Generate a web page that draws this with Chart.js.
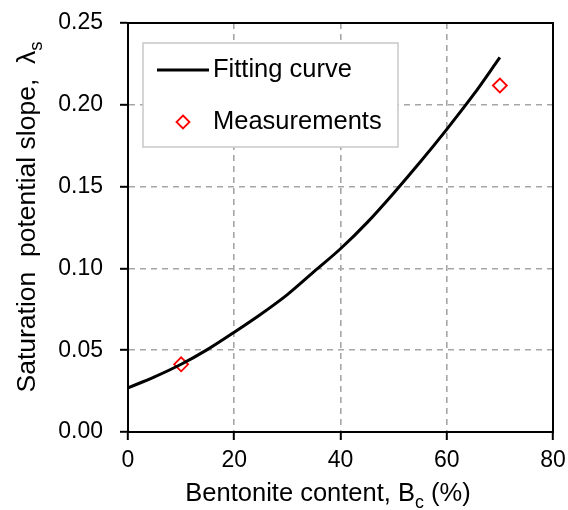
<!DOCTYPE html>
<html lang="en">

<head>
  <meta charset="UTF-8">
  <script src="https://cdn.jsdelivr.net/npm/chart.js@4.4.1/dist/chart.umd.min.js"></script>
  <style>
    body {
      margin: 0;
      background: #fff;
    }

    #wrap {
      width: 568px;
      height: 510px;
    }
  </style>
  <title>Saturation potential slope</title>
</head>

<body>
  <div id="wrap">
    <canvas id="chart" width="568" height="510"></canvas>
  </div>

  <script>
    // fitting curve
    const curveX = [0, 5, 10, 15, 20, 25, 30, 35, 40, 45, 50, 55, 60, 65, 70];
    const curveY = [0.027, 0.0337, 0.0414, 0.0505, 0.061, 0.072, 0.084, 0.098, 0.112, 0.128, 0.146, 0.165, 0.185, 0.206, 0.229];

    // measured points
    const measX = [10, 70];
    const measY = [0.0414, 0.2118];

    const xTicks = [0, 20, 40, 60, 80];
    const yTicks = [0, 0.05, 0.10, 0.15, 0.20, 0.25];

    const FONT = '"Liberation Sans", Arial, sans-serif';

    // draw a piece of text where parts can be subscripts
    function drawRich(ctx, parts, size) {
      let total = 0;
      parts.forEach(function (p) {
        ctx.font = (p.sub ? size * 0.7 : size) + 'px ' + FONT;
        p.w = ctx.measureText(p.t).width;
        total += p.w;
      });
      let x = -total / 2;
      parts.forEach(function (p) {
        ctx.font = (p.sub ? size * 0.7 : size) + 'px ' + FONT;
        ctx.fillText(p.t, x, p.sub ? size * 0.28 : 0);
        x += p.w;
      });
    }

    const extras = {
      id: 'extras',
      afterDraw(chart) {
        const ctx = chart.ctx;
        const a = chart.chartArea;
        ctx.save();
        // box round the plot
        ctx.strokeStyle = '#000';
        ctx.lineWidth = 2;
        ctx.strokeRect(a.left, a.top, a.right - a.left, a.bottom - a.top);

        // axis titles
        ctx.fillStyle = '#000';
        ctx.textBaseline = 'alphabetic';
        ctx.textAlign = 'left';
        ctx.save();
        ctx.translate(328, 501);
        drawRich(ctx, [{ t: 'Bentonite content, B' }, { t: 'c', sub: true }, { t: ' (%)' }], 25.5);
        ctx.restore();

        ctx.save();
        ctx.translate(35, 217);
        ctx.rotate(-Math.PI / 2);
        drawRich(ctx, [{ t: 'Saturation  potential slope,  \u03bb' }, { t: 's', sub: true }], 26.5);
        ctx.restore();

        // legend
        const lx = a.left + 15, ly = a.top + 20, lw = 255, lh = 104;
        ctx.fillStyle = '#fff';
        ctx.fillRect(lx, ly, lw, lh);
        ctx.strokeStyle = '#c8c8c8';
        ctx.lineWidth = 1.5;
        ctx.strokeRect(lx, ly, lw, lh);

        const ds = chart.data.datasets;
        ctx.font = '25.5px ' + FONT;
        ctx.textBaseline = 'middle';
        ctx.fillStyle = '#000';
        // line sample
        ctx.strokeStyle = ds[0].borderColor;
        ctx.lineWidth = 3;
        ctx.beginPath();
        ctx.moveTo(lx + 14, ly + 27);
        ctx.lineTo(lx + 66, ly + 27);
        ctx.stroke();
        ctx.fillText(ds[0].label, lx + 70, ly + 27);
        // diamond sample
        const cx = lx + 40, cy = ly + 79, r = 6.5;
        ctx.strokeStyle = ds[1].borderColor;
        ctx.lineWidth = 1.8;
        ctx.beginPath();
        ctx.moveTo(cx, cy - r);
        ctx.lineTo(cx + r, cy);
        ctx.lineTo(cx, cy + r);
        ctx.lineTo(cx - r, cy);
        ctx.closePath();
        ctx.stroke();
        ctx.fillText(ds[1].label, lx + 70, ly + 79);
        ctx.restore();
      }
    };

    const gridStyle = {
      color: '#a6a6a6',
      lineWidth: 1.6,
      drawTicks: true,
      tickLength: 8,
      tickColor: '#000',
      tickWidth: 2,
      tickBorderDash: []
    };
    // in v4 the grid dash lives under border
    const borderStyle = { color: '#000', width: 2, dash: [6, 5] };

    // keep the plot box where the layout padding puts it
    function noOverflow(s) {
      s.paddingTop = 0;
      s.paddingBottom = 0;
      s.paddingLeft = 0;
      s.paddingRight = 0;
    }

    const chart = new Chart(document.getElementById('chart'), {
      type: 'line',
      data: {
        datasets: [{
          label: 'Fitting curve',
          data: curveX.map(function (x, i) { return { x: x, y: curveY[i] } }),
          borderColor: '#000',
          borderWidth: 3,
          pointRadius: 0,
          cubicInterpolationMode: 'monotone',
          fill: false
        }, {
          label: 'Measurements',
          data: measX.map(function (x, i) { return { x: x, y: measY[i] } }),
          showLine: false,
          pointStyle: 'rectRot',
          pointRadius: 7,
          borderColor: '#ff0000',
          backgroundColor: '#fff',
          pointBorderWidth: 1.8
        }]
      },
      options: {
        responsive: false,
        animation: false,
        devicePixelRatio: 1,
        layout: { padding: { left: 0, right: 15, top: 23, bottom: 0 } },
        plugins: { legend: { display: false }, tooltip: { enabled: false } },
        scales: {
          x: {
            type: 'linear',
            min: 0,
            max: 80,
            afterFit: function (s) { s.height = 78; noOverflow(s) },
            afterBuildTicks: function (s) { s.ticks = xTicks.map(function (v) { return { value: v } }) },
            grid: gridStyle,
            border: borderStyle,
            ticks: { color: '#000', font: { family: FONT, size: 23 }, padding: 7 }
          },
          y: {
            type: 'linear',
            min: 0,
            max: 0.25,
            afterFit: function (s) { s.width = 128; noOverflow(s) },
            afterBuildTicks: function (s) { s.ticks = yTicks.map(function (v) { return { value: v } }) },
            grid: gridStyle,
            border: borderStyle,
            ticks: {
              color: '#000',
              font: { family: FONT, size: 23 },
              padding: 17,
              callback: function (v) { return v.toFixed(2) }
            }
          }
        }
      },
      plugins: [extras]
    });
  </script>
</body>

</html>
